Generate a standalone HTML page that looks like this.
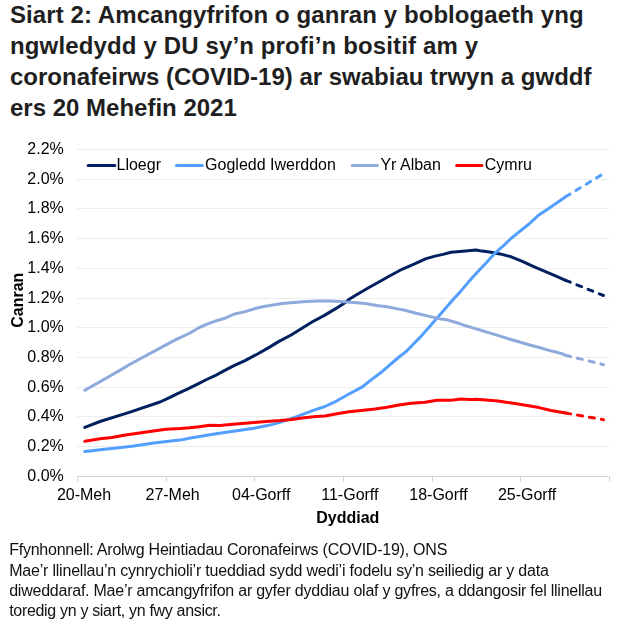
<!DOCTYPE html>
<html><head><meta charset="utf-8"><style>
html,body{margin:0;padding:0;background:#fff;}
body{width:624px;height:628px;position:relative;overflow:hidden;font-family:"Liberation Sans",sans-serif;}
.t{position:absolute;left:10px;top:0px;font-weight:bold;font-size:24px;line-height:30.9px;color:#1f1f1f;white-space:nowrap;margin:0;}
.f{position:absolute;left:9.2px;top:540.4px;font-size:16px;line-height:20.2px;letter-spacing:-0.235px;color:#111;white-space:nowrap;margin:0;}
svg{position:absolute;left:0;top:0;will-change:transform;}
svg text{font-family:"Liberation Sans",sans-serif;font-size:16px;fill:#000;}
</style></head><body>
<h1 class="t"><span style="letter-spacing:0.08px">Siart 2: Amcangyfrifon o ganran y boblogaeth yng</span><br><span style="letter-spacing:0.138px">ngwledydd y DU sy’n profi’n bositif am y</span><br>coronafeirws (COVID-19) ar swabiau trwyn a gwddf<br>ers 20 Mehefin 2021</h1>
<svg width="624" height="628" viewBox="0 0 624 628">
<line x1="77" x2="609.5" y1="446.5" y2="446.5" stroke="#ededed" stroke-width="1"/>
<line x1="77" x2="609.5" y1="416.5" y2="416.5" stroke="#ededed" stroke-width="1"/>
<line x1="77" x2="609.5" y1="387.5" y2="387.5" stroke="#ededed" stroke-width="1"/>
<line x1="77" x2="609.5" y1="357.5" y2="357.5" stroke="#ededed" stroke-width="1"/>
<line x1="77" x2="609.5" y1="327.5" y2="327.5" stroke="#ededed" stroke-width="1"/>
<line x1="77" x2="609.5" y1="298.5" y2="298.5" stroke="#ededed" stroke-width="1"/>
<line x1="77" x2="609.5" y1="268.5" y2="268.5" stroke="#ededed" stroke-width="1"/>
<line x1="77" x2="609.5" y1="238.5" y2="238.5" stroke="#ededed" stroke-width="1"/>
<line x1="77" x2="609.5" y1="208.5" y2="208.5" stroke="#ededed" stroke-width="1"/>
<line x1="77" x2="609.5" y1="179.5" y2="179.5" stroke="#ededed" stroke-width="1"/>
<line x1="77" x2="609.5" y1="149.5" y2="149.5" stroke="#ededed" stroke-width="1"/>
<line x1="77" x2="609.5" y1="476.5" y2="476.5" stroke="#d4d4d4" stroke-width="1"/>
<line x1="77.5" x2="77.5" y1="476.5" y2="482" stroke="#d4d4d4" stroke-width="1"/>
<line x1="166.5" x2="166.5" y1="476.5" y2="482" stroke="#d4d4d4" stroke-width="1"/>
<line x1="254.5" x2="254.5" y1="476.5" y2="482" stroke="#d4d4d4" stroke-width="1"/>
<line x1="343.5" x2="343.5" y1="476.5" y2="482" stroke="#d4d4d4" stroke-width="1"/>
<line x1="432.5" x2="432.5" y1="476.5" y2="482" stroke="#d4d4d4" stroke-width="1"/>
<line x1="520.5" x2="520.5" y1="476.5" y2="482" stroke="#d4d4d4" stroke-width="1"/>
<line x1="609.5" x2="609.5" y1="476.5" y2="482" stroke="#d4d4d4" stroke-width="1"/>
<text x="63.8" y="480.80" text-anchor="end">0.0%</text>
<text x="63.8" y="450.80" text-anchor="end">0.2%</text>
<text x="63.8" y="420.80" text-anchor="end">0.4%</text>
<text x="63.8" y="391.80" text-anchor="end">0.6%</text>
<text x="63.8" y="361.80" text-anchor="end">0.8%</text>
<text x="63.8" y="331.80" text-anchor="end">1.0%</text>
<text x="63.8" y="302.80" text-anchor="end">1.2%</text>
<text x="63.8" y="272.80" text-anchor="end">1.4%</text>
<text x="63.8" y="242.80" text-anchor="end">1.6%</text>
<text x="63.8" y="212.80" text-anchor="end">1.8%</text>
<text x="63.8" y="183.80" text-anchor="end">2.0%</text>
<text x="63.8" y="153.80" text-anchor="end">2.2%</text>
<text x="84.00" y="499.5" text-anchor="middle">20-Meh</text>
<text x="172.62" y="499.5" text-anchor="middle">27-Meh</text>
<text x="261.24" y="499.5" text-anchor="middle">04-Gorff</text>
<text x="349.86" y="499.5" text-anchor="middle">11-Gorff</text>
<text x="438.48" y="499.5" text-anchor="middle">18-Gorff</text>
<text x="527.10" y="499.5" text-anchor="middle">25-Gorff</text>
<polyline points="84.8,427.4 100,421.5 130,412.1 160,402 170,397.3 177,393.8 187.4,389.1 197,384.3 206.7,379.5 215,375.7 222,371.9 234,365.7 245,360.6 257.5,354 270,346.9 279,341.4 291.1,335 302.8,327.8 312,322 324,315.6 336.1,308.4 344.9,302.8 350,298.8 357,294.5 369,287.5 381.1,280.8 390,275.7 402,269.3 414,264.2 426.1,258.6 435,256.1 443,254.4 451,252.3 463,251.2 475.9,250 480,250.8 489.6,252.1 500,253.9 511.2,256.8 522.4,261.3 533.7,266.7 544.9,271.4 556.1,276.1 565.6,280.3" fill="none" stroke="#002060" stroke-width="3.0" stroke-linejoin="round" stroke-linecap="round"/>
<polyline points="565.6,280.3 603.5,295.5" fill="none" stroke="#002060" stroke-width="3.0" stroke-linejoin="round" stroke-linecap="round" stroke-dasharray="5.1 7"/>
<polyline points="84.8,451.5 94,450.6 102,449.6 114.1,448.2 132,446.3 142,444.8 154,443 166.1,441.6 180,440.1 192,437.8 204,435.8 216.1,433.7 230,431.7 242,430 254,428.2 263.7,426.2 271.7,424.6 280,422.4 288,419.6 296,416.8 304,413.8 316.1,409.4 325,406.5 337,400.8 349,394 361.9,387.2 372.4,378.9 382,371.7 398.4,357.5 406.1,351.6 413.3,344.2 420,337.4 427.9,328.6 436.9,318.3 454,298.5 460,292.1 468.8,281.6 477.5,272 486.3,262.8 495,253.1 503.8,245.3 511,238.5 517,233.7 529,224 539.5,214.4 545,210.9 557,202.8 565.6,196.8" fill="none" stroke="#529fff" stroke-width="3.0" stroke-linejoin="round" stroke-linecap="round"/>
<polyline points="565.6,196.8 603.5,173.6" fill="none" stroke="#529fff" stroke-width="3.0" stroke-linejoin="round" stroke-linecap="round" stroke-dasharray="5.1 7"/>
<polyline points="84.8,390.3 106,378.3 118.1,371.4 130,364.3 172.5,341.4 178,338.7 190,333 198,328.2 207.6,323.8 218.1,320.2 225,318.2 234.6,314 245,311.6 257.1,308 265.1,306.3 270,305.6 282,303.6 294,302.5 306,301.6 318,301.1 330,301 340,301.4 350,302.3 357,302.7 365,303.4 377,305.4 387,306.8 395,308.4 404.9,310.2 416.1,313.2 428.1,316.1 441.3,319.1 448,320.1 456,322.5 462.4,324.7 472,327.6 480,330 490,333.1 496.1,334.9 505,337.6 510,339.2 517,341.2 529,344.8 541.1,348 550,350.6 555,351.8 562,353.7 565.6,355.3" fill="none" stroke="#8ea9db" stroke-width="3.0" stroke-linejoin="round" stroke-linecap="round"/>
<polyline points="565.6,355.3 603.5,364.6" fill="none" stroke="#8ea9db" stroke-width="3.0" stroke-linejoin="round" stroke-linecap="round" stroke-dasharray="5.1 7"/>
<polyline points="84.8,441.2 100,438.8 112,437.4 124,435.3 136,433.4 150,431.6 166.1,429.2 180,428.5 189.6,427.8 199.2,426.8 209.6,425.2 220.1,425.4 230,424.6 242,423.6 254,422.5 266.1,421.4 280,420.5 292,419.4 304,417.8 316.1,416.6 325,415.9 337,413.7 349,411.7 361.1,410.5 375,409.1 387,407.2 399,405 411.1,403.2 425,402.3 437,400.3 449,400.3 453,400 461.1,399 470,399.4 476.4,399.2 486,400 498,401.1 506.1,402.2 515,403.6 527,405.6 539,407.6 551.1,410.5 565.6,413" fill="none" stroke="#ff0000" stroke-width="3.0" stroke-linejoin="round" stroke-linecap="round"/>
<polyline points="565.6,413 603.5,419.7" fill="none" stroke="#ff0000" stroke-width="3.0" stroke-linejoin="round" stroke-linecap="round" stroke-dasharray="5.1 7"/>
<line x1="88.2" x2="114.8" y1="165.5" y2="165.5" stroke="#002060" stroke-width="3.0" stroke-linecap="round"/>
<text x="116.5" y="169.9">Lloegr</text>
<line x1="176.4" x2="202.4" y1="165.5" y2="165.5" stroke="#529fff" stroke-width="3.0" stroke-linecap="round"/>
<text x="205.1" y="169.9">Gogledd Iwerddon</text>
<line x1="352.2" x2="377.5" y1="165.5" y2="165.5" stroke="#8ea9db" stroke-width="3.0" stroke-linecap="round"/>
<text x="380.4" y="169.9">Yr Alban</text>
<line x1="456.6" x2="481.9" y1="165.5" y2="165.5" stroke="#ff0000" stroke-width="3.0" stroke-linecap="round"/>
<text x="484.8" y="169.9">Cymru</text>

<text x="347.8" y="523.1" text-anchor="middle" font-weight="bold">Dyddiad</text>
<text transform="translate(23.2,300.2) rotate(-90)" text-anchor="middle" font-weight="bold">Canran</text>
</svg>
<p class="f">Ffynhonnell: Arolwg Heintiadau Coronafeirws (COVID-19), ONS<br><span style="letter-spacing:-0.206px">Mae’r llinellau’n cynrychioli’r tueddiad sydd wedi’i fodelu sy’n seiliedig ar y data</span><br>diweddaraf. Mae’r amcangyfrifon ar gyfer dyddiau olaf y gyfres, a ddangosir fel llinellau<br><span style="letter-spacing:-0.32px">toredig yn y siart, yn fwy ansicr.</span></p>
</body></html>
